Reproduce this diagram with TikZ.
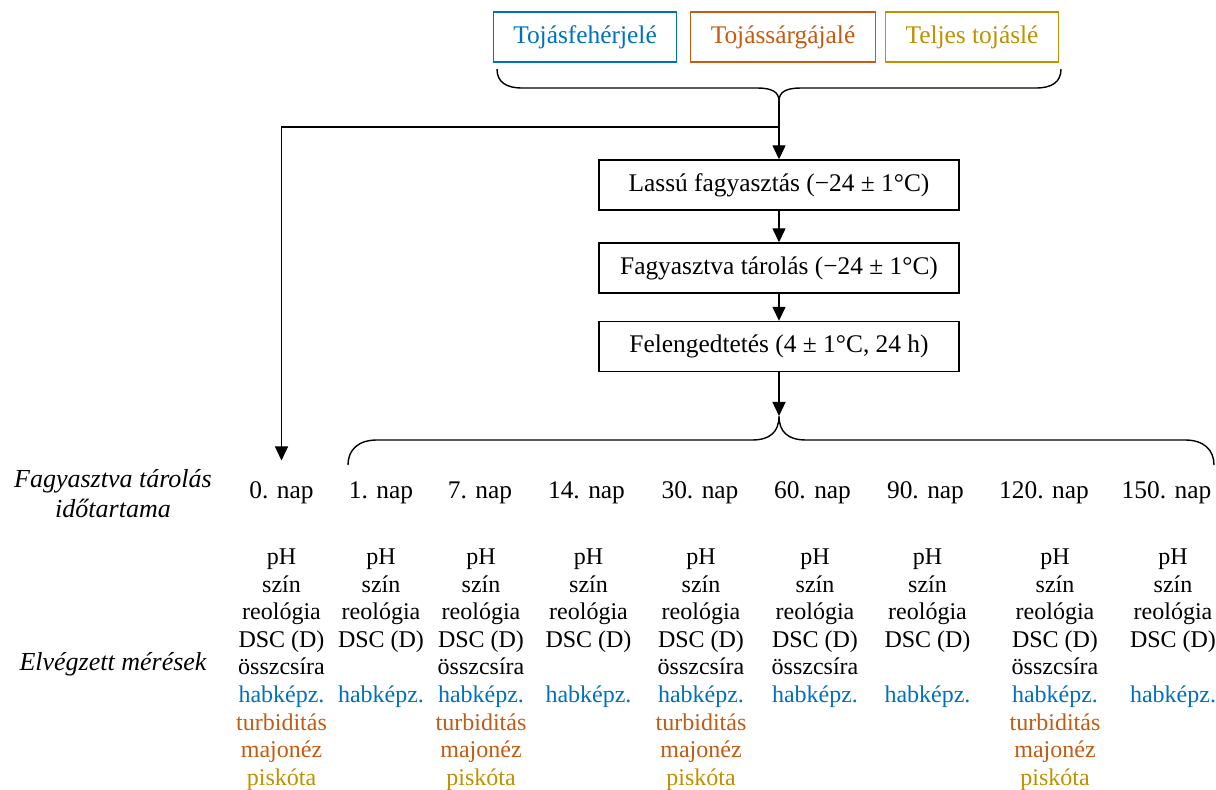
\documentclass[tikz,border=0pt]{standalone}
\usepackage{fontspec}
\setmainfont{Liberation Serif}
\usetikzlibrary{arrows.meta}

\definecolor{feher}{RGB}{0,112,192}
\definecolor{sarga}{RGB}{197,90,17}
\definecolor{teljes}{RGB}{191,144,0}

\newcommand{\betu}{\fontsize{12.7}{13.8}\selectfont\lineskiplimit=-20pt\relax}
\newcommand{\teljesmeres}{pH\\szín\\reológia\\DSC (D)\\összcsíra\\\textcolor{feher}{habképz.}\\\textcolor{sarga}{turbiditás}\\\textcolor{sarga}{majonéz}\\\textcolor{teljes}{piskóta}}
\newcommand{\kozepmeres}{pH\\szín\\reológia\\DSC (D)\\összcsíra\\\textcolor{feher}{habképz.}}
\newcommand{\rovidmeres}{pH\\szín\\reológia\\DSC (D)\\\mbox{}\\\textcolor{feher}{habképz.}}

\tikzset{every path/.style={line width=0.7pt},
  doboz/.style={draw, minimum width=180pt, minimum height=25pt, inner sep=0pt},
  tojas/.style={draw=#1, text=#1, minimum height=25pt, inner xsep=10pt, inner ysep=0pt},
  nyil/.style={-{Triangle[width=6.5pt,length=7pt]}},
  meres/.style={align=center, anchor=north, inner sep=0pt,
    font={\fontsize{12}{13.8}\selectfont\lineskiplimit=-20pt\relax}},
  cimke/.style={align=center, font={\fontsize{13}{15}\selectfont\itshape}}}

\begin{document}
\begin{tikzpicture}[x=0.5pt,y=-0.5pt,font=\betu]
\useasboundingbox (0,0) rectangle (1216,790);
\node[tojas=feher] (feher) at (585,37) {Tojásfehérjelé};
\node[tojas=sarga] (sarga) at (783,37) {Tojássárgájalé};
\node[tojas=teljes] (teljes) at (972,37) {Teljes tojáslé};
\coordinate (felso) at (779,101);
\coordinate (elagazas) at (779,127);
\coordinate (also) at (779,416);
\draw (497,69) .. controls (497,82) and (506,88) .. (522,88) -- (757,88) .. controls (772,88) and (779,92) .. (felso) .. controls (779,92) and (786,88) .. (801,88) -- (1036,88) .. controls (1052,88) and (1061,82) .. (1061,69);
\node[doboz] (lassu) at (779,185) {Lassú fagyasztás (−24 ± 1°C)};
\node[doboz] (tarolas) at (779,268) {Fagyasztva tárolás (−24 ± 1°C)};
\node[doboz] (felenged) at (779,346.5) {Felengedtetés (4 ± 1°C, 24 h)};
\draw[nyil] (felso) -- (lassu);
\draw[nyil] (lassu) -- (tarolas);
\draw[nyil] (tarolas) -- (felenged);
\draw[nyil] (felenged) -- (also);
\draw (348,465) .. controls (348,450) and (358,440) .. (377,440) -- (752,440) .. controls (770,440) and (779,432) .. (also) .. controls (779,432) and (788,440) .. (806,440) -- (1185,440) .. controls (1204,440) and (1214,450) .. (1214,465);
\node[cimke] (idotartam) at (113,494) {Fagyasztva tárolás\\időtartama};
\node[cimke] (meresek) at (113,664) {Elvégzett mérések};
\foreach \x/\nap in {281.5/0,381/1,480/7,586.5/14,700/30,812.5/60,925.5/90,1044/120,1166.5/150}
  \node (nap\nap) at (\x,493) {\nap. nap};
\draw[nyil, shorten >=7pt] (elagazas) -| (nap0);
\foreach \x/\lista [count=\i] in {281.5/\teljesmeres,381/\rovidmeres,481/\teljesmeres,588.5/\rovidmeres,701/\teljesmeres,815/\kozepmeres,927.5/\rovidmeres,1055/\teljesmeres,1173/\rovidmeres}
  \node[meres] (meres\i) at (\x,548) {\lista};
\end{tikzpicture}
\end{document}
